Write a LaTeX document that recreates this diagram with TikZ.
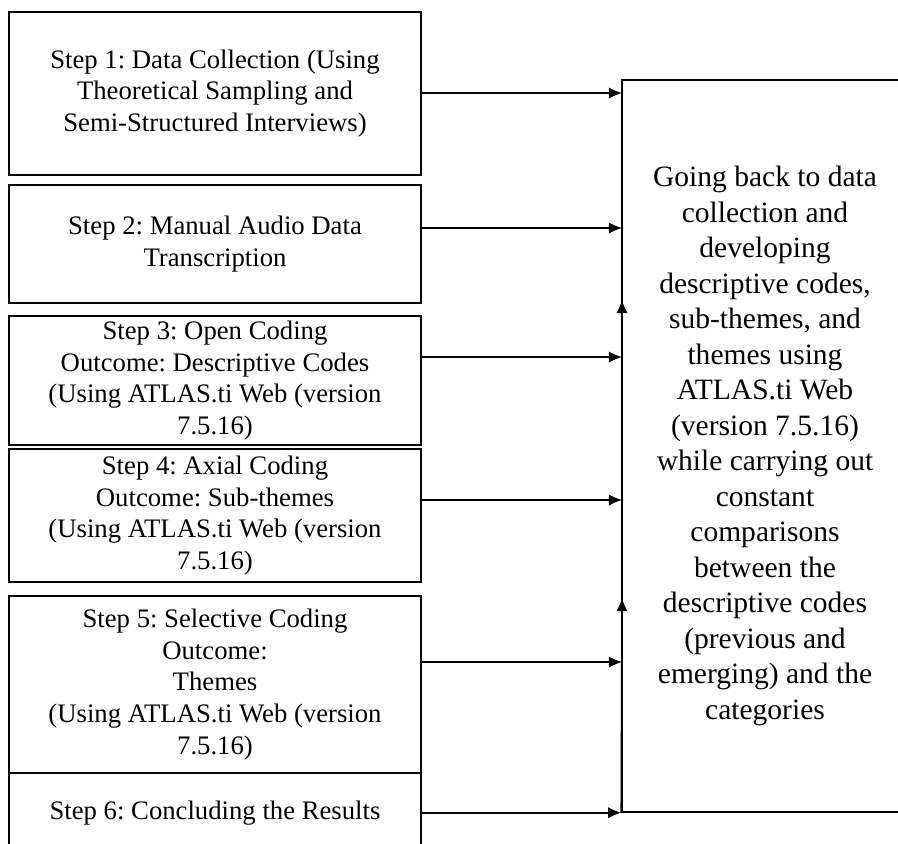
\documentclass[tikz,border=0pt]{standalone}
\usepackage{fontspec}
\setmainfont{Liberation Serif}
\usetikzlibrary{arrows.meta}
\frenchspacing

\begin{document}
\begin{tikzpicture}[x=0.02cm, y=-0.02cm,
	stepbox/.style={draw, line width=1.1pt, minimum width=8.24cm, align=center, inner sep=0pt, font=\fontsize{15.2}{18.1}\selectfont},
	goalbox/.style={draw, line width=0.9pt, minimum width=5.72cm, minimum height=14.64cm, align=center, inner sep=0pt, font=\fontsize{16.8}{20.2}\selectfont},
	flow/.style={line width=0.9pt, -{Latex[length=7.5pt, width=6.5pt]}}]
		\path[use as bounding box, clip] (0,0) rectangle (898,843);
		\node[stepbox, minimum height=3.26cm] (S1) at (215,93.5) {Step 1: Data Collection (Using\\Theoretical Sampling and\\Semi-Structured Interviews)};
		\node[stepbox, minimum height=2.36cm] (S2) at (215,244) {Step 2: Manual Audio Data\\Transcription};
		\node[stepbox, minimum height=2.58cm] (S3) at (215,380.5) {Step 3: Open Coding\\Outcome: Descriptive Codes\\(Using ATLAS.ti Web (version\\7.5.16)};
		\node[stepbox, minimum height=2.66cm] (S4) at (215,515.5) {Step 4: Axial Coding\\Outcome: Sub-themes\\(Using ATLAS.ti Web (version\\7.5.16)};
		\node[stepbox, minimum height=3.54cm] (S5) at (215,684.5) {Step 5: Selective Coding\\Outcome:\\Themes\\(Using ATLAS.ti Web (version\\7.5.16)};
		\node[stepbox, minimum height=1.6cm] (S6) at (215,813) {Step 6: Concluding the Results};
		\node[goalbox] (G) at (765,446) {Going back to data\\collection and\\developing\\descriptive codes,\\sub-themes, and\\themes using\\ATLAS.ti Web\\(version 7.5.16)\\while carrying out\\constant\\comparisons\\between the\\descriptive codes\\(previous and\\emerging) and the\\categories};
		% ends of the arrows on the left side of G
		\coordinate (G1) at (622,93);
		\coordinate (G2) at (622,228);
		\coordinate (G3) at (622,357);
		\coordinate (G4) at (622,500);
		\coordinate (G5) at (622,662);
		\coordinate (U1) at (622,300);
		\coordinate (U2) at (622,598);
		\draw[flow] (S1.east |- G1) -- (G1);
		\draw[flow] (S2.east |- G2) -- (G2);
		\draw[flow] (S3.east |- G3) -- (G3);
		\draw[flow] (S4.east |- G4) -- (G4);
		\draw[flow] (S5.east |- G5) -- (G5);
		\draw[flow] (S6.east |- G.south west) -- (G.south west);
		\draw[flow] (G.south west) -- (U2);
		\draw[flow] (U2) -- (U1);
\end{tikzpicture}
\end{document}
